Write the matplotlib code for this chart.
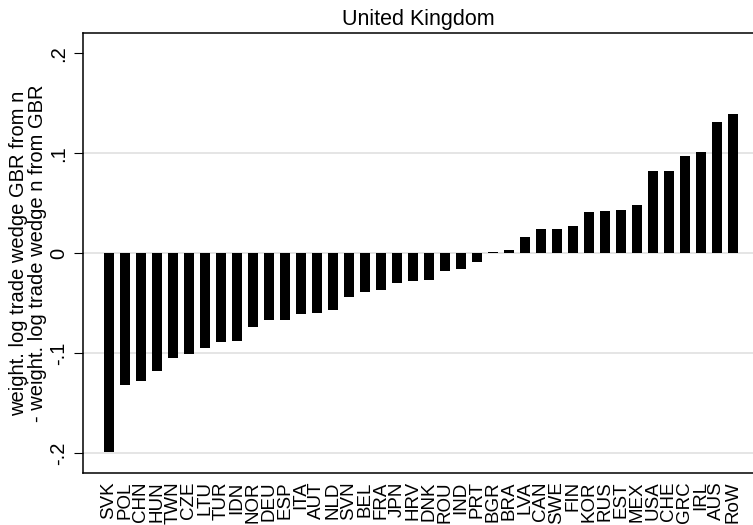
import matplotlib
matplotlib.use("Agg")
import matplotlib.pyplot as plt
import numpy as np

plt.rcParams["font.family"] = ["Liberation Sans", "DejaVu Sans"]

countries = ["SVK", "POL", "CHN", "HUN", "TWN", "CZE", "LTU", "TUR", "IDN", "NOR",
             "DEU", "ESP", "ITA", "AUT", "NLD", "SVN", "BEL", "FRA", "JPN", "HRV",
             "DNK", "ROU", "IND", "PRT", "BGR", "BRA", "LVA", "CAN", "SWE", "FIN",
             "KOR", "RUS", "EST", "MEX", "USA", "CHE", "GRC", "IRL", "AUS", "RoW"]
wedge_diff = [-0.199, -0.132, -0.128, -0.118, -0.105, -0.101, -0.095, -0.089, -0.088, -0.074,
              -0.067, -0.067, -0.061, -0.060, -0.057, -0.044, -0.039, -0.037, -0.030, -0.028,
              -0.027, -0.018, -0.016, -0.009, 0.001, 0.003, 0.016, 0.024, 0.024, 0.027,
              0.041, 0.042, 0.043, 0.048, 0.082, 0.082, 0.097, 0.101, 0.131, 0.139]
y_ticks = [-0.2, -0.1, 0.0, 0.1, 0.2]
y_tick_labels = ["-.2", "-.1", "0", ".1", ".2"]
grid_levels = [-0.2, -0.1, 0.0, 0.1]

fig = plt.figure(figsize=(7.53, 5.25), dpi=100)
ax = fig.add_axes([0.1098, 0.099, 0.8902, 0.838])

x = np.arange(len(countries))
for g in grid_levels:
    ax.axhline(g, color="#e3e3e3", linewidth=1.3, zorder=0)
ax.bar(x, wedge_diff, width=0.63, color="black", zorder=2)

ax.set_xlim(-1.63, len(countries) - 1 + 1.26)
ax.set_ylim(-0.2197, 0.2203)

ax.set_xticks(x)
ax.set_xticklabels(countries, rotation=90, fontsize=13.5, va="top", ha="center")
ax.tick_params(axis="x", length=0, pad=6)

ax.set_yticks(y_ticks)
ax.set_yticklabels(y_tick_labels, rotation=90, va="center", fontsize=14.5)
ax.tick_params(axis="y", length=6.5, width=0.8, pad=4)

for side in ["left", "bottom", "top"]:
    ax.spines[side].set_linewidth(1.1)
ax.spines["right"].set_visible(False)

ax.set_title("United Kingdom", fontsize=15.5, pad=6)

fig.text(19 / 753, 1 - 253 / 525, "weight. log trade wedge GBR from n",
         rotation=90, ha="center", va="center", fontsize=14.5)
fig.text(38 / 753, 1 - 253 / 525, "- weight. log trade wedge n from GBR",
         rotation=90, ha="center", va="center", fontsize=14.5)

fig.savefig("out.png", dpi=100)
